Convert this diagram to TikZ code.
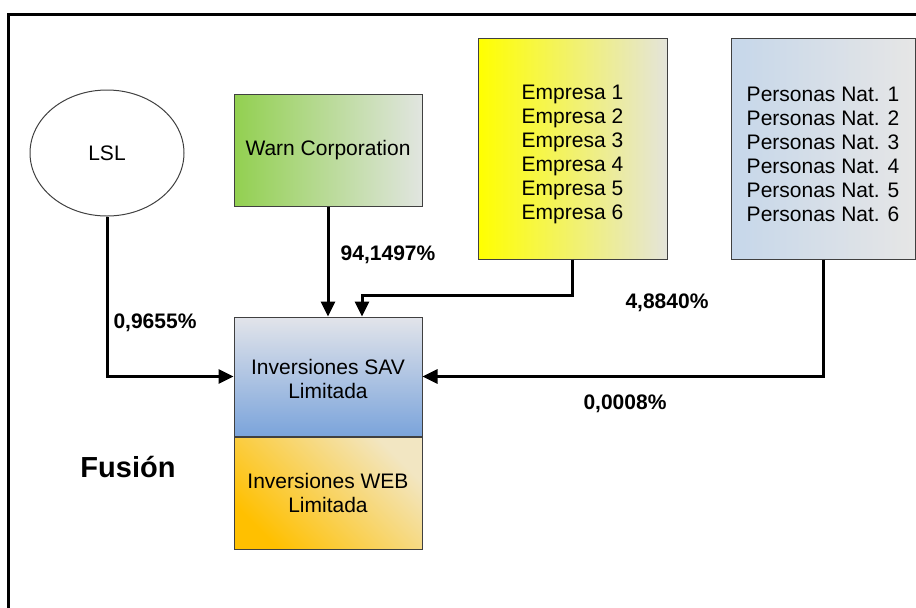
\documentclass[tikz,border=0pt]{standalone}
\usepackage{fontspec}
\setmainfont{Liberation Sans}
\usetikzlibrary{positioning,shapes.geometric,arrows.meta}

\definecolor{warngreen}{HTML}{92D050}
\definecolor{warngrey}{HTML}{E1E5E0}
\definecolor{empyellow}{HTML}{FFFF00}
\definecolor{empgrey}{HTML}{E4E4DA}
\definecolor{persblue}{HTML}{C6D7EA}
\definecolor{persgrey}{HTML}{E6E6E6}
\definecolor{savtop}{HTML}{E2E4EA}
\definecolor{savbottom}{HTML}{7BA4DB}
\definecolor{weborange}{HTML}{FFC000}
\definecolor{weblight}{HTML}{F2E6C2}
\definecolor{boxline}{HTML}{404040}

\tikzset{
  company/.style={draw=boxline, line width=0.5pt, rectangle, align=center,
    font=\fontsize{10.5}{12}\selectfont, inner sep=0pt},
  owner/.style={draw=boxline, line width=0.5pt, ellipse, minimum width=77pt,
    minimum height=63pt, font=\fontsize{10.5}{12}\selectfont},
  link/.style={line width=1.5pt, -{Triangle[length=7.5pt,width=7pt]}},
  share/.style={font=\fontsize{10.5}{12}\selectfont\bfseries}
}

\begin{document}
\begin{tikzpicture}[x=0.5pt,y=-0.5pt]
\path[use as bounding box, clip] (0,0) rectangle (916,607);
\draw[line width=1.5pt] (8.5,14) rectangle (960,660);

\node[owner] (lsl) at (107,153) {LSL};
\node[company, minimum width=94pt, minimum height=56pt,
  left color=warngreen, right color=warngrey] (warn) at (328,150) {Warn Corporation};
\node[company, minimum width=94.5pt, minimum height=110.5pt,
  left color=empyellow, right color=empgrey] (emp) at (572.5,148.5)
  {\rule{0pt}{13.5pt}Empresa 1\\Empresa 2\\Empresa 3\\Empresa 4\\Empresa 5\\Empresa 6};
\node[company, minimum width=92pt, minimum height=110.5pt,
  left color=persblue, right color=persgrey] (pers) at (823,148.5)
  {\rule{0pt}{13.5pt}Personas Nat. 1\\Personas Nat. 2\\Personas Nat. 3\\Personas Nat. 4\\Personas Nat. 5\\Personas Nat. 6};
\node[company, minimum width=94pt, minimum height=59.5pt,
  top color=savtop, bottom color=savbottom] (sav) at (328,376.5)
  {\rule{0pt}{10pt}Inversiones SAV\\Limitada};
\node[company, minimum width=94pt, minimum height=56pt,
  top color=weborange, bottom color=weblight, shading angle=135,
  below=0pt of sav] (web) {Inversiones WEB\\Limitada};

\draw[link] (lsl.south) |- (sav.west);
\draw[link] (warn.south) -- (sav.north);
\draw[link] (emp.south) -- ++(0,36) -| ([xshift=17pt]sav.north);
\draw[link] (pers.south) |- (sav.east);

\node[share] (plsl) at (155,323) {0,9655\%};
\node[share] (pwarn) at (388,255) {94,1497\%};
\node[share] (pemp) at (667,303) {4,8840\%};
\node[share] (ppers) at (625,404) {0,0008\%};
\node[font=\fontsize{14.5}{17}\selectfont\bfseries] (fusion) at (128,467) {Fusión};
\end{tikzpicture}
\end{document}
